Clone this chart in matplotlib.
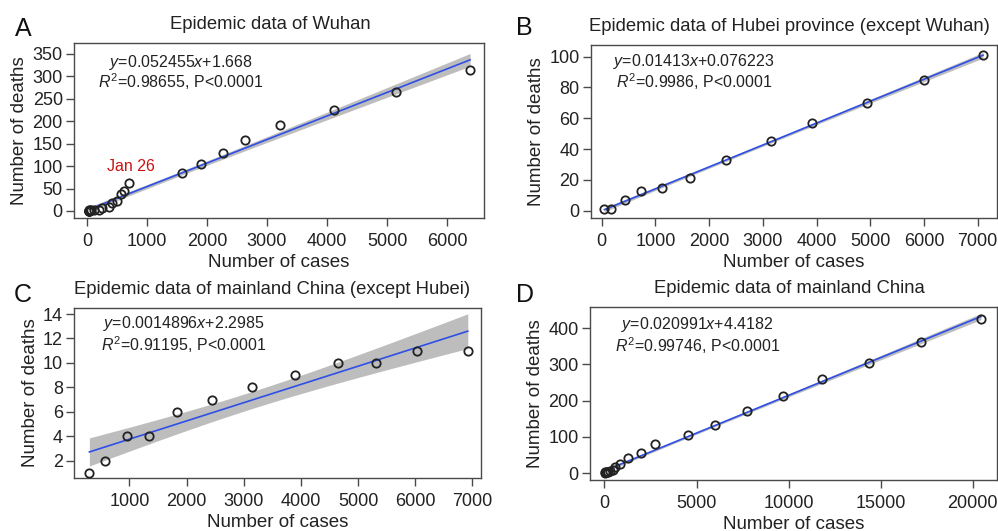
import numpy as np
import matplotlib
matplotlib.use('Agg')
import matplotlib.pyplot as plt

try:
    from scipy import stats
except ImportError:
    stats = None

# 武汉
wuhan_cases = [41, 41, 41, 41, 41, 41, 45, 62, 121, 198, 258, 363, 425, 495, 572, 618, 698,
               1590, 1905, 2261, 2639, 3215, 4109, 5142, 6384]
wuhan_deaths = [1, 1, 1, 1, 1, 2, 2, 2, 3, 3, 6, 9, 17, 23, 38, 45, 63,
                85, 104, 129, 159, 192, 224, 265, 313]

# 湖北 (除武汉)
hubei_cases = [50, 170, 430, 730, 1120, 1640, 2320, 3150, 3920, 4940, 6000, 7100]
hubei_deaths = [1, 1, 7, 13, 15, 21, 33, 45, 57, 70, 85, 101]

# 中国大陆 (除湖北)
other_cases = [300, 580, 950, 1340, 1830, 2440, 3150, 3900, 4650, 5320, 6030, 6920]
other_deaths = [1, 2, 4, 4, 6, 7, 8, 9, 10, 10, 11, 11]

# 中国大陆
china_cases = [41, 45, 62, 121, 198, 291, 440, 571, 830, 1287, 1975, 2744, 4515, 5974,
               7711, 9692, 11791, 14380, 17205, 20438]
china_deaths = [1, 2, 2, 3, 3, 6, 9, 17, 25, 41, 56, 80, 106, 132, 170, 213, 259, 304, 361, 425]

titles = ['Epidemic data of Wuhan',
          'Epidemic data of Hubei province (except Wuhan)',
          'Epidemic data of mainland China (except Hubei)',
          'Epidemic data of mainland China']
letters = ['A', 'B', 'C', 'D']
eq_lines = [(r'$y$=0.052455$x$+1.668', r'$R^2$=0.98655, P<0.0001'),
            (r'$y$=0.01413$x$+0.076223', r'$R^2$=0.9986, P<0.0001'),
            (r'$y$=0.0014896$x$+2.2985', r'$R^2$=0.91195, P<0.0001'),
            (r'$y$=0.020991$x$+4.4182', r'$R^2$=0.99746, P<0.0001')]

plt.rcParams['font.family'] = ['Liberation Sans', 'DejaVu Sans']
plt.rcParams['mathtext.fontset'] = 'custom'
plt.rcParams['mathtext.rm'] = 'Liberation Sans'
plt.rcParams['mathtext.it'] = 'Liberation Sans:italic'

TXT = '#222222'
BLUE = '#2f4fe6'


def fit_band(x, y, xs):
    x = np.asarray(x, float)
    y = np.asarray(y, float)
    b, a = np.polyfit(x, y, 1)
    n = len(x)
    resid = y - (a + b * x)
    s = np.sqrt(np.sum(resid ** 2) / (n - 2))
    xm = x.mean()
    se = s * np.sqrt(1.0 / n + (xs - xm) ** 2 / np.sum((x - xm) ** 2))
    t = stats.t.ppf(0.975, n - 2) if stats is not None else 2.1
    yh = a + b * xs
    return yh, yh - t * se, yh + t * se


def panel(ax, cases, deaths, xlim, ylim, xticks, yticks):
    xs = np.linspace(min(cases), max(cases), 200)
    yh, lo, hi = fit_band(cases, deaths, xs)
    ax.fill_between(xs, lo, hi, color='#bdbdbd', lw=0, zorder=1)
    ax.plot(xs, yh, color=BLUE, lw=1.2, zorder=2)
    ax.plot(cases, deaths, 'o', ms=6, mfc='none', mec='#222222', mew=1.3, zorder=3)
    ax.set_xlim(*xlim)
    ax.set_ylim(*ylim)
    ax.set_xticks(xticks)
    ax.set_yticks(yticks)
    for sp in ax.spines.values():
        sp.set_color('#4a4a4a')
        sp.set_linewidth(1.0)
    ax.tick_params(direction='out', length=6, width=1.0, color='#4a4a4a',
                   labelsize=13, labelcolor=TXT, pad=2)
    ax.tick_params(axis='x', length=5.5, pad=5.5)
    ax.set_xlabel('Number of cases', fontsize=13.5, color=TXT, labelpad=2.5)
    ax.set_ylabel('Number of deaths', fontsize=13.5, color=TXT, labelpad=3)


def main():
    fig = plt.figure(figsize=(9.98, 5.31), dpi=100)

    axA = fig.add_axes([0.0741, 0.5895, 0.4109, 0.3295])
    axB = fig.add_axes([0.592, 0.5895, 0.4069, 0.3258])
    axC = fig.add_axes([0.0741, 0.0998, 0.4078, 0.3202])
    axD = fig.add_axes([0.591, 0.096, 0.4078, 0.326])

    panel(axA, wuhan_cases, wuhan_deaths, (-217, 6617), (-15.6, 374),
          range(0, 6001, 1000), range(0, 351, 50))
    panel(axB, hubei_cases, hubei_deaths, (-204, 7359), (-4.7, 107.6),
          range(0, 7001, 1000), range(0, 101, 20))
    panel(axC, other_cases, other_deaths, (30, 7150), (0.57, 14.5),
          range(1000, 7001, 1000), range(2, 15, 2))
    panel(axD, china_cases, china_deaths, (-796, 21300), (-19.4, 459),
          range(0, 20001, 5000), range(0, 401, 100))

    axA.text(730, 100, 'Jan 26', color='#cc1111', fontsize=11.5, ha='center', va='center')

    eq_pos = [(0.261, 0.891, 0.777), (0.254, 0.902, 0.786),
              (0.27, 0.906, 0.782), (0.265, 0.90, 0.775)]
    title_x = [0.478, 0.49, 0.487, 0.49]
    axes = [axA, axB, axC, axD]
    for ax, t, (l1, l2), (px, py1, py2), tx in zip(axes, titles, eq_lines, eq_pos, title_x):
        ax.text(px, py1, l1, transform=ax.transAxes, fontsize=11.5, color=TXT,
                ha='center', va='center')
        ax.text(px, py2, l2, transform=ax.transAxes, fontsize=11.5, color=TXT,
                ha='center', va='center')
        ax.set_title(t, fontsize=13.3, color=TXT, pad=10, x=tx)

    # 面板字母
    for lab, (fx, fy) in zip(letters, [(23, 29), (524, 28), (23, 295), (525, 295)]):
        fig.text(fx / 998, 1 - fy / 531, lab, fontsize=18, color='#111111',
                 ha='center', va='center')

    fig.savefig('out.png', dpi=100)


if __name__ == '__main__':
    main()
